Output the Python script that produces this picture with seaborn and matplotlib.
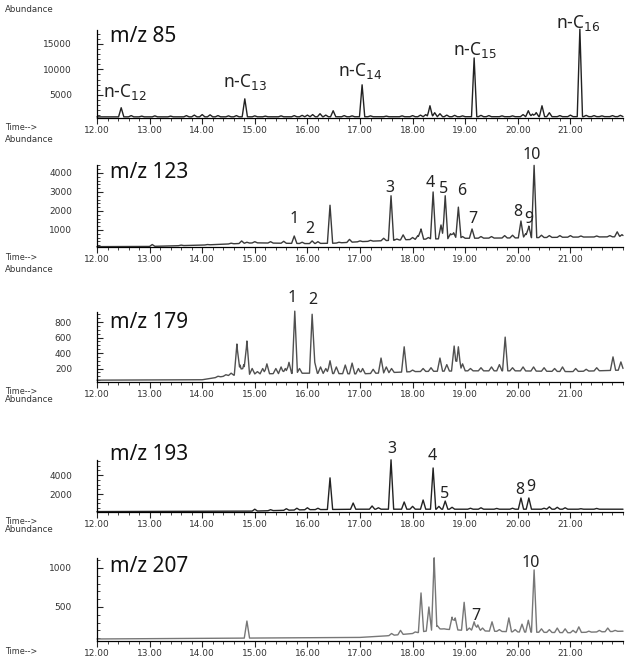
import numpy as np
import pandas as pd
import matplotlib
matplotlib.use('Agg')
import matplotlib.pyplot as plt
from matplotlib.ticker import MultipleLocator, FormatStrFormatter
import seaborn as sns

# ---- data (time in min, abundance) ----
ions = ['m/z 85', 'm/z 123', 'm/z 179', 'm/z 193', 'm/z 207']

# m/z 85
base85_t = [12.0, 22.0]
base85_y = [650, 700]
pk85_t = [12.46, 12.65, 12.85, 13.1, 13.4, 13.7, 13.85, 14.0, 14.15, 14.3, 14.5, 14.65,
          14.81, 15.0, 15.2, 15.5, 15.75, 15.9, 16.0, 16.1, 16.24, 16.35, 16.49, 16.7, 16.85,
          17.04, 17.2, 17.5, 17.8, 18.0, 18.15, 18.25, 18.33, 18.42, 18.52, 18.65, 18.8, 18.95,
          19.17, 19.3, 19.45, 19.7, 19.9, 20.1, 20.2, 20.28, 20.35, 20.46, 20.6, 20.8, 21.0,
          21.18, 21.3, 21.45, 21.6, 21.8, 21.95]
pk85_h = [2450, 900, 800, 850, 800, 900, 1000, 1100, 1050, 900, 850, 900,
          4200, 850, 800, 850, 900, 950, 1000, 1100, 1270, 1000, 1860, 900, 850,
          6960, 850, 800, 850, 900, 1000, 1100, 2840, 1470, 1270, 1000, 950, 850,
          12250, 950, 900, 850, 850, 1100, 1860, 1200, 1500, 2840, 1470, 900, 1000,
          17900, 950, 900, 850, 900, 950]
lab85_t = [12.46, 14.81, 17.04, 19.17, 21.18]
lab85_txt = [r'n-C$_{12}$', r'n-C$_{13}$', r'n-C$_{14}$', r'n-C$_{15}$', r'n-C$_{16}$']

# m/z 123
base123_t = [12.0, 13.0, 14.0, 15.0, 16.0, 16.5, 17.0, 18.0, 19.0, 20.0, 21.0, 22.0]
base123_y = [120, 130, 200, 320, 280, 300, 380, 500, 560, 580, 620, 640]
pk123_t = [13.05, 13.6, 14.1, 14.55, 14.75, 14.85, 15.0, 15.3, 15.55, 15.75, 15.9, 16.09,
           16.2, 16.43, 16.6, 16.8, 17.0, 17.2, 17.45, 17.59, 17.7, 17.82, 18.0, 18.1, 18.16,
           18.3, 18.39, 18.54, 18.62, 18.72, 18.78, 18.87, 18.95, 19.13, 19.3, 19.5, 19.75,
           19.9, 20.06, 20.15, 20.21, 20.31, 20.45, 20.6, 20.8, 21.0, 21.2, 21.5, 21.75, 21.89, 21.98]
pk123_h = [230, 200, 230, 300, 420, 350, 380, 380, 400, 680, 350, 420,
           380, 2300, 350, 500, 420, 450, 560, 2800, 520, 740, 600, 700, 1050,
           600, 3000, 1260, 2800, 800, 850, 2200, 650, 1050, 650, 650, 700,
           720, 1470, 800, 1200, 4400, 720, 700, 700, 700, 680, 680, 700, 900, 750]
lab123_t = [15.75, 16.09, 17.59, 18.39, 18.62, 18.87, 19.13, 20.06, 20.21, 20.31]
lab123_txt = ['1', '2', '3', '4', '5', '6', '7', '8', '9', '10']

# m/z 179
base179_t = [12.0, 14.0, 14.5, 15.0, 16.0, 17.0, 18.0, 19.0, 20.0, 21.0, 22.0]
base179_y = [50, 55, 110, 130, 140, 130, 160, 170, 170, 160, 180]
pk179_t = [14.3, 14.45, 14.55, 14.66, 14.72, 14.79, 14.85, 14.95, 15.05, 15.15, 15.23, 15.4,
           15.5, 15.58, 15.65, 15.76, 15.85, 16.09, 16.14, 16.25, 16.35, 16.43, 16.55, 16.72,
           16.85, 16.97, 17.05, 17.25, 17.40, 17.5, 17.6, 17.84, 18.0, 18.2, 18.35, 18.52,
           18.65, 18.79, 18.87, 18.95, 19.1, 19.3, 19.5, 19.65, 19.76, 19.9, 20.1, 20.3,
           20.5, 20.7, 20.85, 21.1, 21.3, 21.5, 21.81, 21.96]
pk179_h = [100, 120, 140, 516, 245, 250, 555, 200, 160, 200, 260, 200,
           220, 200, 280, 940, 200, 900, 280, 220, 200, 300, 220, 245,
           270, 200, 200, 190, 335, 220, 200, 480, 180, 200, 210, 335,
           250, 490, 480, 260, 200, 210, 220, 250, 605, 210, 220, 220,
           210, 200, 220, 200, 190, 210, 350, 285]
lab179_t = [15.76, 16.09]
lab179_txt = ['1', '2']

# m/z 193
base193_t = [12.0, 15.0, 16.0, 17.0, 22.0]
base193_y = [150, 200, 350, 400, 400]
pk193_t = [15.0, 15.3, 15.6, 15.8, 16.0, 16.2, 16.43, 16.87, 17.23, 17.35, 17.59, 17.84,
           18.0, 18.2, 18.39, 18.5, 18.62, 18.75, 19.1, 19.3, 19.6, 19.9, 20.06, 20.21,
           20.5, 20.6, 20.75, 20.9, 21.2, 21.5]
pk193_h = [400, 350, 450, 500, 550, 500, 3700, 1050, 740, 550, 5600, 1160,
           700, 1370, 4740, 700, 1260, 600, 500, 550, 480, 500, 1580, 1580,
           500, 650, 600, 550, 450, 480]
lab193_t = [17.59, 18.39, 18.62, 20.06, 20.21]
lab193_txt = ['3', '4', '5', '8', '9']

# m/z 207
base207_t = [12.0, 17.0, 17.5, 18.0, 18.5, 19.0, 20.0, 21.0, 22.0]
base207_y = [90, 110, 130, 160, 220, 200, 180, 170, 190]
pk207_t = [14.85, 17.6, 17.77, 18.05, 18.16, 18.31, 18.41, 18.47, 18.6, 18.75, 18.81, 18.98,
           19.08, 19.17, 19.24, 19.33, 19.51, 19.65, 19.83, 19.95, 20.08, 20.2, 20.31, 20.45,
           20.6, 20.75, 20.9, 21.05, 21.16, 21.35, 21.55, 21.71, 21.85]
pk207_h = [320, 160, 200, 180, 680, 500, 1130, 260, 220, 370, 360, 560,
           230, 310, 270, 230, 310, 210, 360, 210, 280, 330, 975, 220,
           210, 230, 220, 200, 245, 190, 200, 230, 200]
lab207_t = [19.17, 20.31]
lab207_txt = ['7', '10']

panels = [
    (base85_t, base85_y, pk85_t, pk85_h, lab85_t, lab85_txt),
    (base123_t, base123_y, pk123_t, pk123_h, lab123_t, lab123_txt),
    (base179_t, base179_y, pk179_t, pk179_h, lab179_t, lab179_txt),
    (base193_t, base193_y, pk193_t, pk193_h, lab193_t, lab193_txt),
    (base207_t, base207_y, pk207_t, pk207_h, lab207_t, lab207_txt),
]

# ---- layout (pixels) ----
W, H = 637, 657
left, right = 97, 623
tops = [30, 165, 312, 460, 558]
bottoms = [118, 247, 382, 512, 641]
ylims = [(430, 17745), (100, 4420), (26, 929), (105, 5580), (64, 1128)]
yticks = [[5000, 10000, 15000], [1000, 2000, 3000, 4000], [200, 400, 600, 800],
          [2000, 4000], [500, 1000]]
yminor = [1000, 200, 50, 500, 100]
colors = ['#222222', '#3a3a3a', '#505050', '#222222', '#777777']
mz_y = [37, 173, 323, 455, 567]
abund_y = [10, 140, 270, 400, 530]
# label offsets from peak apex (dx, dy) in pixels, text baseline
lab_off = [
    [(4, 11), (0, 12), (-2, 9), (1, 3), (-2, 1)],
    [(0, 13), (-2, 8), (-1, 4), (-3, 5), (-2, 3), (3, 12), (1, 6), (-3, 5), (0, 3), (-2, 6)],
    [(-3, 9), (1, 10)],
    [(1, 7), (-1, 8), (-1, 3), (-1, 4), (2, 7)],
    [(2, 2), (-3, 3)],
]
lab_size = [12.5, 11.5, 11.5, 11.5, 11.5]


def make_trace(bt, by, pt, ph, w=0.05):
    pt = np.asarray(pt, float)
    ph = np.asarray(ph, float)
    xs = np.unique(np.concatenate([bt, pt - w, pt, pt + w]))
    xs = xs[(xs >= 12.0) & (xs <= 22.0)]
    base = np.interp(xs, bt, by)
    ys = base.copy()
    for a, h in zip(pt, ph):
        tri = base + (h - base) * np.clip(1 - np.abs(xs - a) / w, 0, None)
        ys = np.maximum(ys, tri)
    return pd.DataFrame({'time': xs, 'abundance': ys})


sns.set_style('ticks')
plt.rcParams['font.family'] = ['DejaVu Sans']

fig = plt.figure(figsize=(W / 100, H / 100), dpi=100)

for i, (bt, by, pt, ph, lt, ltxt) in enumerate(panels):
    ax = fig.add_axes([left / W, 1 - bottoms[i] / H, (right - left) / W, (bottoms[i] - tops[i]) / H])
    df = make_trace(bt, by, pt, ph)
    sns.lineplot(data=df, x='time', y='abundance', ax=ax, color=colors[i], lw=1.0,
                 estimator=None, sort=False)
    for ln in ax.lines:
        ln.set_clip_on(False)
    ax.set_xlim(12.0, 22.0)
    ax.set_ylim(*ylims[i])
    ax.set_xticks(range(12, 22))
    ax.xaxis.set_major_formatter(FormatStrFormatter('%.2f'))
    ax.xaxis.set_minor_locator(MultipleLocator(0.2))
    ax.set_yticks(yticks[i])
    ax.yaxis.set_minor_locator(MultipleLocator(yminor[i]))
    ax.tick_params(axis='x', which='major', direction='out', length=4, width=0.8,
                   labelsize=6.5, labelcolor='#333333', pad=2)
    ax.tick_params(axis='x', which='minor', direction='out', length=2.5, width=0.6)
    ax.tick_params(axis='y', which='major', direction='in', length=4, width=0.8,
                   labelsize=6.5, labelcolor='#333333', pad=18)
    ax.tick_params(axis='y', which='minor', direction='in', length=2, width=0.6)
    ax.set_xlabel('')
    ax.set_ylabel('')
    sns.despine(ax=ax)
    for s in ['left', 'bottom']:
        ax.spines[s].set_linewidth(0.9)
        ax.spines[s].set_color('black')
    ax.patch.set_alpha(0)

    # peak labels
    for (t, txt), (dx, dy) in zip(zip(lt, ltxt), lab_off[i]):
        h = ph[pt.index(t)]
        ax.annotate(txt, (t, h), xytext=(dx, dy), textcoords='offset pixels',
                    ha='center', va='baseline', fontsize=lab_size[i], color='#222222',
                    family='Noto Sans', annotation_clip=False)

    fig.text(110 / W, 1 - mz_y[i] / H, ions[i], fontsize=15, va='center', ha='left',
             family='Noto Sans', color='#111111')
    fig.text(5 / W, 1 - abund_y[i] / H, 'Abundance', fontsize=6.2, va='center',
             ha='left', color='#333333')
    fig.text(5 / W, 1 - (bottoms[i] + 10) / H, 'Time-->', fontsize=5.8, va='center',
             ha='left', color='#333333')

fig.savefig('out.png', dpi=100)
